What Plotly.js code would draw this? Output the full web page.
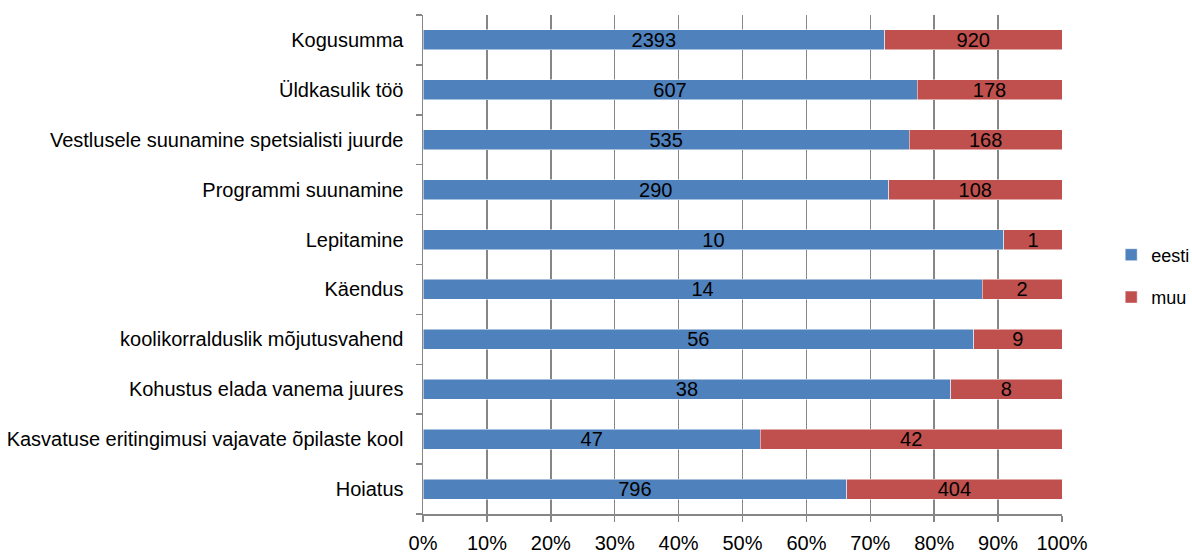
<!DOCTYPE html>
<html><head><meta charset="utf-8">
<script src="https://cdn.plot.ly/plotly-3.0.1.min.js"></script>
<style>html,body{margin:0;padding:0;background:#fff}#chart{width:1192px;height:553px}</style>
</head><body><div id="chart"></div>
<script>
const categories = ["Hoiatus","Kasvatuse eritingimusi vajavate õpilaste kool","Kohustus elada vanema juures","koolikorralduslik mõjutusvahend","Käendus","Lepitamine","Programmi suunamine","Vestlusele suunamine spetsialisti juurde","Üldkasulik töö","Kogusumma"];
const eesti = [796,47,38,56,14,10,290,535,607,2393];
const muu = [404,42,8,9,2,1,108,168,178,920];
const xTickVals = [0,10,20,30,40,50,60,70,80,90,100];
const xTickText = ["0%","10%","20%","30%","40%","50%","60%","70%","80%","90%","100%"];

const FONT = "'Liberation Sans', Arial, sans-serif";
const fs = 20;
const data = [
  {type:'bar', orientation:'h', name:'eesti', y:categories, x:eesti, text:eesti.map(String),
   textposition:'inside', insidetextanchor:'middle', textangle:0, legendgroup:'a',
   textfont:{color:'#000', size:fs, family:FONT}, constraintext:'none',
   marker:{color:'#4F81BD', line:{color:'#ffffff', width:0.5}}, width:0.4, hoverinfo:'x+y'},
  {type:'bar', orientation:'h', name:'muu', y:categories, x:muu, text:muu.map(String),
   textposition:'inside', insidetextanchor:'middle', textangle:0, legendgroup:'b',
   textfont:{color:'#000', size:fs, family:FONT}, constraintext:'none',
   marker:{color:'#C0504D', line:{color:'#ffffff', width:0.5}}, width:0.4, hoverinfo:'x+y'}
];
const layout = {
  barmode:'stack', barnorm:'percent',
  width:1192, height:553,
  margin:{l:423, r:130, t:15, b:39, autoexpand:false},
  paper_bgcolor:'#fff', plot_bgcolor:'#fff',
  font:{family:FONT, size:fs, color:'#000'},
  xaxis:{range:[0,100], tickvals:xTickVals, ticktext:xTickText, showgrid:true, gridcolor:'#868686', gridwidth:1.5,
    showline:true, linecolor:'#868686', linewidth:1.5, ticks:'outside', ticklen:6, tickcolor:'#868686', tickwidth:1.5,
    ticklabelstandoff:4, zeroline:false, tickfont:{size:fs, family:FONT, color:'#000'}, fixedrange:true},
  yaxis:{type:'category', categoryorder:'array', categoryarray:categories, showgrid:false, showline:true, linecolor:'#868686', linewidth:1.5,
    ticks:'outside', tickson:'boundaries', ticklen:6, tickcolor:'#868686', tickwidth:1.5, ticklabelstandoff:14,
    tickfont:{size:fs, family:FONT, color:'#000'}, fixedrange:true},
  showlegend:true,
  legend:{x:1.077, xanchor:'left', y:0.477, yanchor:'middle', traceorder:'grouped', tracegroupgap:16,
    font:{size:18, family:FONT, color:'#000'}, itemwidth:30, bgcolor:'rgba(0,0,0,0)'}
};
Plotly.newPlot('chart', data, layout, {displayModeBar:false, staticPlot:true});
</script></body></html>
